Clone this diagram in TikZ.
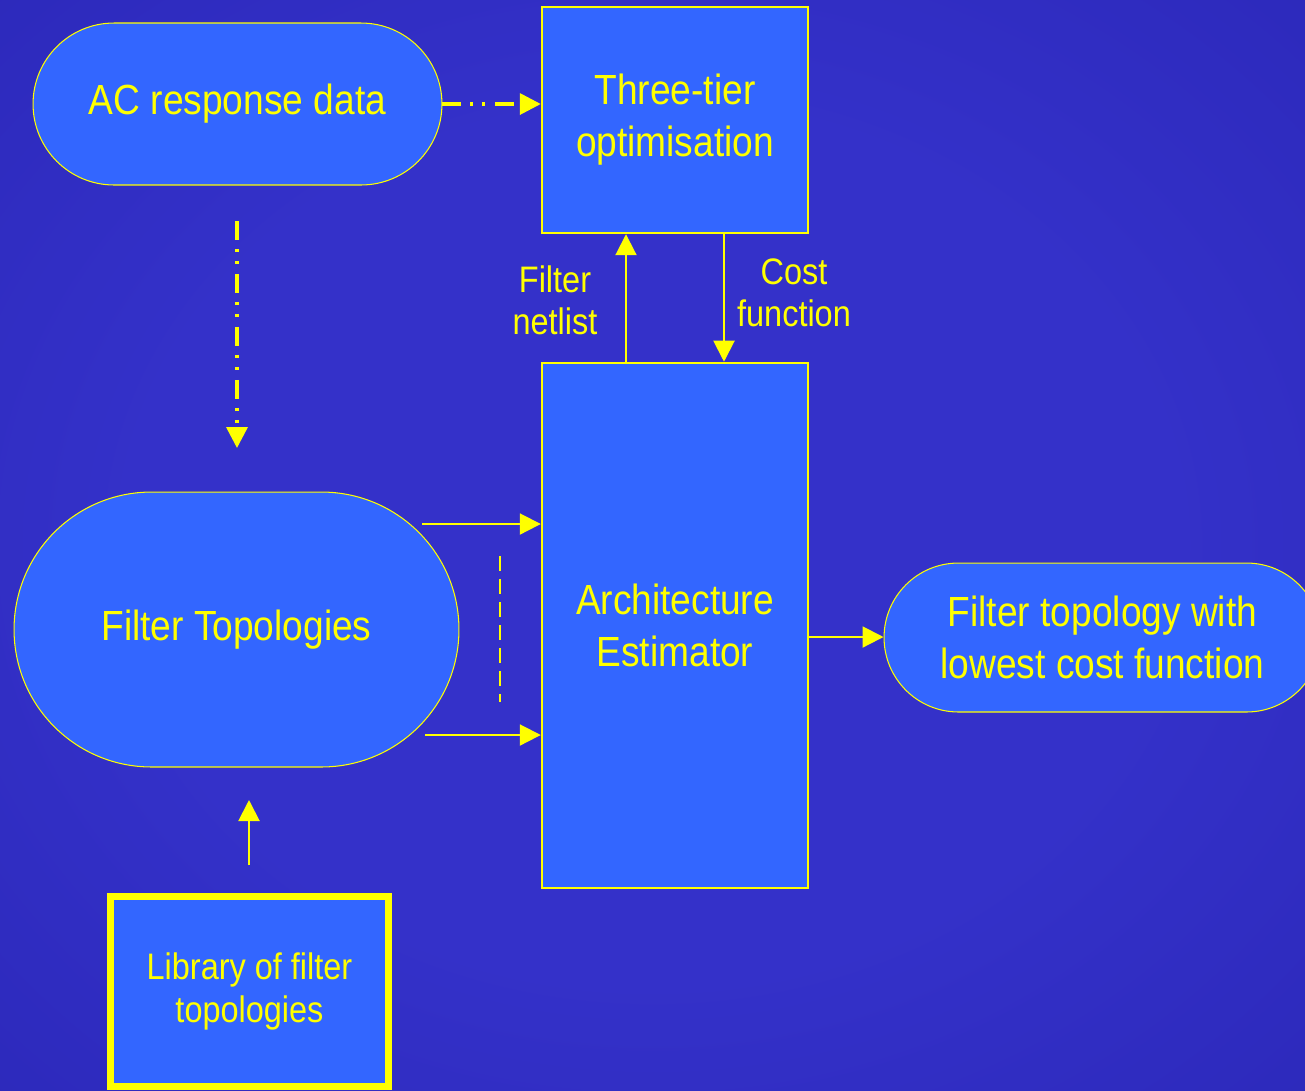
\documentclass[tikz,border=0pt]{standalone}
\usepackage{fontspec}
\setmainfont{Liberation Sans}[FakeStretch=0.88]
\usetikzlibrary{arrows.meta,positioning}

\definecolor{bgin}{RGB}{52,49,201}
\definecolor{bgout}{RGB}{28,24,158}
\definecolor{boxblue}{RGB}{51,102,255}
\definecolor{ylw}{RGB}{255,255,0}
\pgfdeclareradialshading{bgglow}{\pgfpoint{0bp}{0bp}}{color(0bp)=(bgin); color(20bp)=(bgin); color(71bp)=(bgout)}

\newcommand\bigfnt{\fontsize{24}{29.5}\selectfont}
\newcommand\smallfnt{\fontsize{21}{24}\selectfont}

\begin{document}
\begin{tikzpicture}[x=0.02cm, y=-0.02cm, node distance=2cm,
			block/.style={rectangle,draw=ylw,fill=boxblue,line width=1.4pt,text=ylw,align=center,inner sep=0pt,font=\bigfnt},
			pill/.style={rectangle,draw=ylw,fill=boxblue,line width=0.6pt,text=ylw,align=center,inner sep=0pt,font=\bigfnt},
			lbl/.style={text=ylw,align=center,font=\smallfnt},
			flow/.style={ylw,line width=1.15pt,-{Triangle[length=0.42cm,width=0.42cm]}},
			dashflow/.style={flow,line width=2pt,dash pattern=on 0.38cm off 0.18cm on 0.06cm off 0.18cm on 0.06cm off 0.2cm}]
			
			\shade[shading=bgglow] (0,0) rectangle (1305,1090);
			\useasboundingbox (0,0) rectangle (1305,1090);
			
			\node[pill,minimum width=8.18cm,minimum height=3.24cm,rounded corners=1.62cm] (ac) at (237.5,104) {AC response data};
			\node[block,minimum width=5.32cm,minimum height=4.52cm] (tier) at (675,120) {Three-tier\\optimisation};
			\node[block,minimum width=5.32cm,minimum height=10.5cm] (arch) [below of=tier,node distance=10.11cm] {Architecture\\Estimator};
			\node[pill,minimum width=8.9cm,minimum height=5.5cm,rounded corners=2.75cm] (topo) at (236.5,629.5) {Filter Topologies};
			\node[pill,minimum width=8.74cm,minimum height=2.98cm,rounded corners=1.49cm] (out) at (1102.5,637.5) {Filter topology with\\lowest cost function};
			\node[block,line width=4pt,minimum width=5.56cm,minimum height=3.8cm,font=\smallfnt] (lib) at (249.5,991.5) {Library of filter\\topologies};
			
			\node[lbl] (netlist) at (555,300) {Filter\\netlist};
			\node[lbl] (cost) at (794,293) {Cost\\function};
			
			% free ends
			\coordinate (nl) at (626,0);
			\coordinate (cf) at (724,0);
			\coordinate (t1) at (422,524);
			\coordinate (t2) at (425,735);
			\coordinate (o1) at (808,637);
			\coordinate (acdown) at (237,221);
			\coordinate (topoin) at (237,448);
			\coordinate (libup) at (249,865);
			\coordinate (topolow) at (249,800);
			\coordinate (sep1) at (500,556);
			\coordinate (sep2) at (500,702);
			
			\path[every edge/.append style={flow}]
			(nl |- arch.north) edge (nl |- tier.south)
			(cf |- tier.south) edge (cf |- arch.north)
			(t1) edge (t1 -| arch.west)
			(t2) edge (t2 -| arch.west)
			(o1) edge (o1 -| out.west)
			(libup) edge (topolow);
			
			\path[every edge/.append style={dashflow}]
			(ac.east) edge (ac.east -| tier.west)
			(acdown) edge (topoin);
			
			\draw[ylw,line width=0.85pt,dash pattern=on 0.3cm off 0.16cm] (sep1) -- (sep2);
			
		\end{tikzpicture}
\end{document}
